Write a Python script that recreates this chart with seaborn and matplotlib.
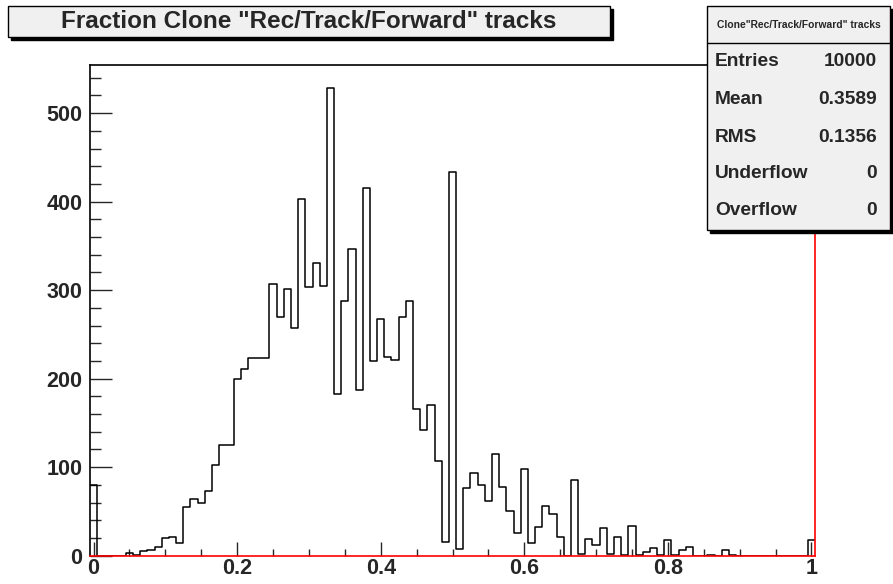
import matplotlib
matplotlib.use("Agg")
import matplotlib.pyplot as plt
from matplotlib.patches import Rectangle
from matplotlib.lines import Line2D
from matplotlib.ticker import MultipleLocator
import numpy as np
import pandas as pd
import seaborn as sns

# bin counts, 101 bins of width 0.01 centred on 0.00 .. 1.00
counts = [80, 0, 0, 0, 0, 3, 1, 5, 7, 10,
          20, 21, 14, 55, 64, 60, 73, 103, 125, 125,
          200, 211, 223, 223, 223, 307, 270, 301, 257, 403,
          304, 331, 305, 528, 183, 288, 346, 187, 415, 220,
          267, 225, 221, 270, 288, 166, 142, 170, 107, 15,
          434, 8, 76, 94, 80, 62, 115, 78, 50, 26,
          98, 14, 32, 56, 47, 21, 0, 85, 2, 19,
          12, 31, 2, 21, 1, 33, 1, 4, 9, 1,
          18, 1, 6, 10, 0, 0, 1, 0, 7, 1,
          0, 0, 0, 0, 0, 0, 0, 0, 0, 0,
          18]
x_min, x_max = -0.005, 1.005
title = 'Fraction Clone "Rec/Track/Forward" tracks'
stats_title = 'Clone"Rec/Track/Forward" tracks'
stats_names = ["Entries", "Mean", "RMS", "Underflow", "Overflow"]
stats_values = ["10000", "0.3589", "0.1356", "0", "0"]
x_ticks = [0, 0.2, 0.4, 0.6, 0.8, 1]
x_tick_labels = ["0", "0.2", "0.4", "0.6", "0.8", "1"]

edges = np.linspace(x_min, x_max, len(counts) + 1)
centers = (edges[:-1] + edges[1:]) / 2
df = pd.DataFrame({"frac": centers, "n": counts})

sns.set_style("white")
plt.rcParams['font.family'] = ['Liberation Sans', 'DejaVu Sans']
plt.rcParams['font.weight'] = 'bold'

W, H = 893, 584
fig = plt.figure(figsize=(W / 100, H / 100), dpi=100)
fig.patch.set_facecolor("white")


def fx(x):
    return x / W


def fy(y):
    return 1 - y / H


ax = fig.add_axes([fx(90), fy(555.7), fx(815) - fx(90), fy(65) - fy(555.7)])
sns.histplot(data=df, x="frac", weights="n", bins=edges.tolist(), element="step",
             fill=False, color="black", linewidth=1.1, ax=ax)
ax.set_xlim(x_min, x_max)
ax.set_ylim(0, max(counts) * 1.05)
ax.set_xlabel("")
ax.set_ylabel("")

for side in ["left", "top"]:
    ax.spines[side].set_color("black")
for side in ["right", "bottom"]:
    ax.spines[side].set_color("red")
for s in ax.spines.values():
    s.set_linewidth(1.2)
    s.set_visible(True)

ax.set_xticks(x_ticks)
ax.set_xticklabels(x_tick_labels)
ax.xaxis.set_minor_locator(MultipleLocator(0.05))
ax.yaxis.set_major_locator(MultipleLocator(100))
ax.yaxis.set_minor_locator(MultipleLocator(20))
ax.tick_params(axis="y", which="major", direction="in", length=15.6, width=1,
               labelsize=15.5, pad=5.5, left=True, right=False)
ax.tick_params(axis="y", which="minor", direction="in", length=7.7, width=1,
               left=True, right=False)
ax.tick_params(axis="x", which="major", direction="in", length=10, width=1,
               labelsize=15.5, pad=2, bottom=True, top=False)
ax.tick_params(axis="x", which="minor", direction="in", length=5, width=1,
               bottom=True, top=False)
for lab in ax.get_xticklabels() + ax.get_yticklabels():
    lab.set_fontweight("bold")


def box(x0, y0, x1, y1):
    fig.patches.append(Rectangle((fx(x0 + 3), fy(y1 + 3)), fx(x1 - x0), fy(y0) - fy(y1),
                                 transform=fig.transFigure, facecolor="black",
                                 edgecolor="black", zorder=5))
    fig.patches.append(Rectangle((fx(x0), fy(y1)), fx(x1 - x0), fy(y0) - fy(y1),
                                 transform=fig.transFigure, facecolor="#f0f0f0",
                                 edgecolor="black", linewidth=1, zorder=6))


# title box
box(8, 6, 610, 37)
fig.text(fx(309), fy(22), title, ha="center", va="center", fontsize=17.5,
         fontweight="bold", zorder=7)

# stats box
box(707, 6, 890, 230)
fig.lines.append(Line2D([fx(707), fx(890)], [fy(43), fy(43)], transform=fig.transFigure,
                        color="black", linewidth=1, zorder=7))
fig.text(fx(798.5), fy(25), stats_title, ha="center", va="center", fontsize=7.4,
         fontweight="bold", zorder=7)
row_y = [62, 99, 137, 174, 211]
for name, val, y in zip(stats_names, stats_values, row_y):
    fig.text(fx(715), fy(y), name, ha="left", va="center", fontsize=13.8,
             fontweight="bold", zorder=7)
    fig.text(fx(877), fy(y), val, ha="right", va="center", fontsize=13.8,
             fontweight="bold", zorder=7)

fig.savefig("out.png", dpi=100)
